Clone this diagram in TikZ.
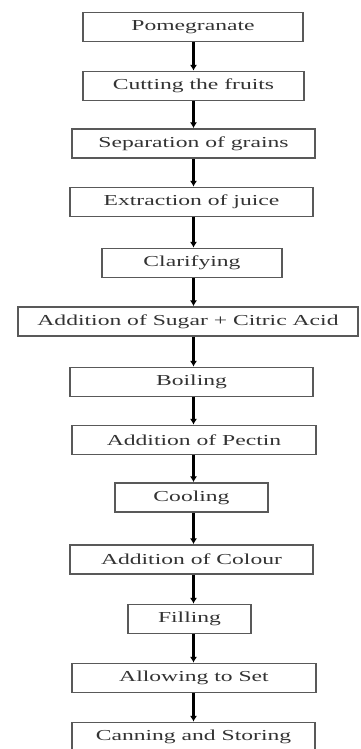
\documentclass[tikz,border=0pt]{standalone}
\usepackage{fontspec}
\setmainfont{Liberation Serif}[FakeStretch=1.55]
\usepackage{tikz}
\usetikzlibrary{arrows.meta,positioning}

\begin{document}
\begin{tikzpicture}[
  x=0.03cm, y=-0.03cm,
  stage/.style={draw=black!65, line width=1.3pt, minimum height=0.87cm, inner sep=0pt,
    text=black!80, font=\fontsize{13}{15}\selectfont},
  flow/.style={draw=black, line width=2pt, -{Latex[length=5pt,width=6pt]}}
]
\useasboundingbox (0,0) rectangle (361,749);
\coordinate (axis) at (193.5,0);

% process steps, top to bottom
\node[stage, minimum width=6.6cm] (pom) at (193,27) {Pomegranate};
\node[stage, minimum width=6.63cm] (cut) at (193.5,86) {Cutting the fruits};
\node[stage, minimum width=7.29cm] (sep) at (193.5,143.5) {Separation of grains};
\node[stage, minimum width=7.29cm] (ext) at (191.5,202) {Extraction of juice};
\node[stage, minimum width=5.4cm] (cla) at (192,263) {Clarifying};
\node[stage, minimum width=10.2cm] (sug) at (188,321.5) {Addition of Sugar + Citric Acid};
\node[stage, minimum width=7.29cm] (boi) at (191.5,382) {Boiling};
\node[stage, minimum width=7.32cm] (pec) at (194,440) {Addition of Pectin};
\node[stage, minimum width=4.59cm] (coo) at (191.5,497.5) {Cooling};
\node[stage, minimum width=7.29cm] (col) at (191.5,559.5) {Addition of Colour};
\node[stage, minimum width=3.69cm] (fil) at (189.5,619) {Filling};
\node[stage, minimum width=7.32cm] (set) at (194,678) {Allowing to Set};
\node[stage, minimum width=7.29cm] (can) at (193.5,737) {Canning and Storing};

% arrows between the steps
\foreach \a/\b in {pom/cut, cut/sep, sep/ext, ext/cla, cla/sug, sug/boi,
                   boi/pec, pec/coo, coo/col, col/fil, fil/set, set/can}
  \draw[flow] (\a.south -| axis) -- (\b.north -| axis);
\end{tikzpicture}
\end{document}
